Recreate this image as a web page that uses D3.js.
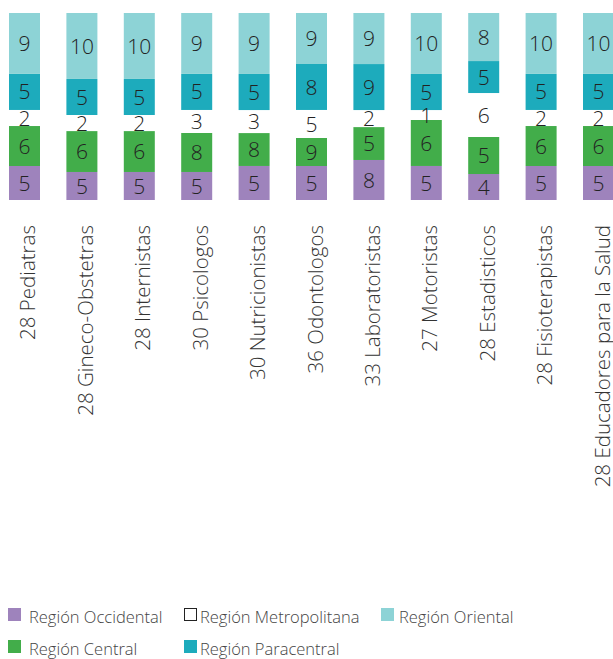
<!DOCTYPE html>
<html>
<head>
<meta charset="utf-8">
<script src="https://cdn.jsdelivr.net/npm/d3@7"></script>
<style>
  body { margin: 0; background: #fff; }
  svg { display: block; font-family: "Open Sans", "Noto Sans", sans-serif; }
</style>
</head>
<body>
<svg id="chart" width="613" height="659"></svg>
<script>
// --- data ---
const categories = ["28 Pediatras", "28 Gineco-Obstetras", "28 Internistas", "30 Psicologos",
  "30 Nutricionistas", "36 Odontologos", "33 Laboratoristas", "27 Motoristas",
  "28 Estadisticos", "28 Fisioterapistas", "28 Educadores para la Salud"];

// numbers printed on the segments
const occidental    = [5, 5, 5, 5, 5, 5, 8, 5, 4, 5, 5];
const central       = [6, 6, 6, 8, 8, 9, 5, 6, 5, 6, 6];
const metropolitana = [2, 2, 2, 3, 3, 5, 2, 1, 6, 2, 2];
const paracentral   = [5, 5, 5, 5, 5, 8, 9, 5, 5, 5, 5];
const oriental      = [9, 10, 10, 9, 9, 9, 9, 10, 8, 10, 10];

// share of each bar (%), as the segments are drawn in the original
const occidentalPct    = [18.2, 15.0, 15.0, 15.0, 18.2, 18.2, 21.4, 18.2, 13.9, 18.2, 18.2];
const centralPct       = [21.4, 21.9, 21.9, 20.9, 17.6, 15.0, 17.6, 24.6, 19.8, 21.4, 21.4];
const metropolitanaPct = [8.6, 8.6, 8.6, 12.3, 12.3, 15.0, 9.1, 5.3, 23.5, 8.6, 8.6];
const paracentralPct   = [19.3, 19.3, 19.3, 19.3, 19.3, 24.6, 24.6, 19.3, 17.1, 19.3, 19.3];
const orientalPct      = [32.6, 35.3, 35.3, 32.6, 32.6, 27.3, 27.3, 32.6, 25.7, 32.6, 32.6];

const seriesNames = ["Región Occidental", "Región Central", "Región Metropolitana", "Región Paracentral", "Región Oriental"];
const seriesLabels = [occidental, central, metropolitana, paracentral, oriental];
const seriesPct = [occidentalPct, centralPct, metropolitanaPct, paracentralPct, orientalPct];
const colors = ["#9e83bc", "#42ad4a", "#ffffff", "#1dabbc", "#8dd3d6"];

// rows for d3.stack
const rows = categories.map((c, i) => {
  const r = { cat: c, idx: i };
  seriesNames.forEach((s, j) => r[s] = seriesPct[j][i]);
  return r;
});

const svg = d3.select("#chart");

const x = d3.scaleBand().domain(categories).range([9, 614]).paddingInner(0.46).paddingOuter(0);
const y = d3.scaleLinear().domain([0, 1]).range([200, 13]);

const stacked = d3.stack().keys(seriesNames).offset(d3.stackOffsetExpand)(rows);

const layer = svg.append("g").selectAll("g")
  .data(stacked)
  .join("g")
  .attr("fill", (d, i) => colors[i]);

layer.selectAll("rect")
  .data(d => d)
  .join("rect")
  .attr("x", d => x(d.data.cat))
  .attr("width", x.bandwidth())
  .attr("y", d => y(d[1]))
  .attr("height", d => y(d[0]) - y(d[1]));

// value labels
svg.append("g").selectAll("g")
  .data(stacked)
  .join("g")
  .selectAll("text")
  .data((d, j) => d.map(p => ({ p, j })))
  .join("text")
  .attr("x", d => x(d.p.data.cat) + x.bandwidth() / 2)
  .attr("y", d => (y(d.p[0]) + y(d.p[1])) / 2)
  .attr("dy", "0.36em")
  .attr("text-anchor", "middle")
  .attr("font-size", 21)
  .attr("font-weight", 300)
  .attr("fill", "#222")
  .text(d => seriesLabels[d.j][d.p.data.idx]);

// category labels (rotated)
svg.append("g").selectAll("text")
  .data(categories)
  .join("text")
  .attr("transform", d => `translate(${x(d) + x.bandwidth() / 2 + 11},225) rotate(-90)`)
  .attr("text-anchor", "end")
  .attr("font-size", 20.5)
  .attr("font-weight", 300)
  .attr("fill", "#333")
  .text(d => d);

// legend
const legendPos = [[8, 608], [8, 640], [184, 608], [184, 640], [381, 608]];
const legendOrder = [0, 1, 2, 3, 4];
const textGap = [8, 8, 3, 3, 5];
const legend = svg.append("g").selectAll("g")
  .data(legendOrder)
  .join("g")
  .attr("transform", (d, i) => `translate(${legendPos[i][0]},${legendPos[i][1]})`);

legend.append("rect")
  .attr("x", d => d === 2 ? 0.5 : 0)
  .attr("y", d => d === 2 ? 0.5 : 0)
  .attr("width", d => d === 2 ? 12 : 13)
  .attr("height", d => d === 2 ? 12 : 13)
  .attr("fill", d => colors[d])
  .attr("stroke", d => d === 2 ? "#222" : "none");

legend.append("text")
  .attr("x", (d, i) => 13 + textGap[i])
  .attr("y", 15)
  .attr("font-size", 16.5)
  .attr("font-weight", 300)
  .attr("fill", "#444")
  .text(d => seriesNames[d]);
</script>
</body>
</html>
